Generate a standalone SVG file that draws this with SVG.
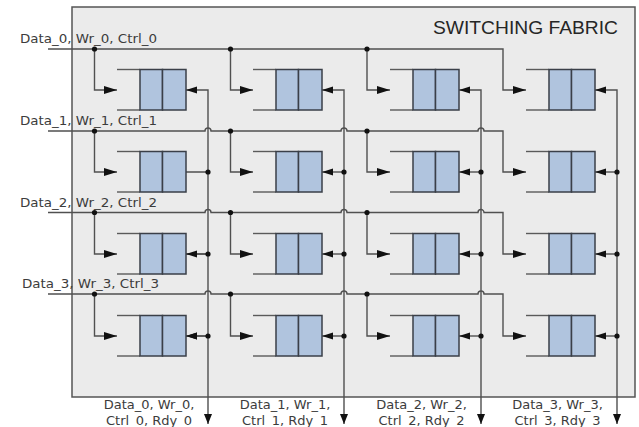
<svg xmlns="http://www.w3.org/2000/svg" width="639" height="427" viewBox="0 0 639 427">
<style>
.ln{fill:none;stroke:#505050;stroke-width:1.4}
.dot{fill:#111}
.cell{fill:#b0c4de;stroke:#3a3f48;stroke-width:1.5}
.open{stroke:#5a5a5a;stroke-width:1.4}
.lbl{font-family:"DejaVu Sans","Liberation Sans",sans-serif;font-size:13px;fill:#3c3c3c}
.ttl{font-family:"Liberation Sans",Arial,sans-serif;font-size:19px;fill:#262626}
</style>
<defs>
<marker id="ah1" markerUnits="userSpaceOnUse" markerWidth="13" markerHeight="9" viewBox="0 0 13 9" refX="13" refY="4.5" orient="auto"><path d="M0,0.5 L13,4.5 L0,8.5 z" fill="#111"/></marker>
<marker id="ah2" markerUnits="userSpaceOnUse" markerWidth="11" markerHeight="8" viewBox="0 0 11 8" refX="11" refY="4" orient="auto-start-reverse"><path d="M0,0.5 L11,4 L0,7.5 z" fill="#111"/></marker>
<marker id="ah3" markerUnits="userSpaceOnUse" markerWidth="10" markerHeight="9" viewBox="0 0 10 9" refX="10" refY="4.5" orient="auto"><path d="M0,0.5 L10,4.5 L0,8.5 z" fill="#111"/></marker>
</defs>
<g id="fabric">
<rect x="72" y="7" width="563" height="390" fill="#ebebeb" stroke="#555" stroke-width="1.5"/>
<text class="ttl" x="433" y="34" textLength="185" lengthAdjust="spacingAndGlyphs">SWITCHING FABRIC</text>
</g>
<g id="connectors">
<!-- input row buses -->
<path class="ln" marker-end="url(#ah1)" d="M48,49 H503 V90 H526"/>
<path class="ln" marker-end="url(#ah1)" d="M48,131 H205 a3,3 0 0 1 6,0 H341 a3,3 0 0 1 6,0 H478 a3,3 0 0 1 6,0 H503 V172 H526"/>
<path class="ln" marker-end="url(#ah1)" d="M48,212.5 H205 a3,3 0 0 1 6,0 H341 a3,3 0 0 1 6,0 H478 a3,3 0 0 1 6,0 H503 V254 H526"/>
<path class="ln" marker-end="url(#ah1)" d="M48,294 H205 a3,3 0 0 1 6,0 H341 a3,3 0 0 1 6,0 H478 a3,3 0 0 1 6,0 H503 V336 H526"/>
<!-- drops -->
<path class="ln" marker-end="url(#ah1)" d="M94.5,49 V90 H117"/>
<path class="ln" marker-end="url(#ah1)" d="M230.5,49 V90 H253"/>
<path class="ln" marker-end="url(#ah1)" d="M367,49 V90 H390"/>
<path class="ln" marker-end="url(#ah1)" d="M94.5,131 V172 H117"/>
<path class="ln" marker-end="url(#ah1)" d="M230.5,131 V172 H253"/>
<path class="ln" marker-end="url(#ah1)" d="M367,131 V172 H390"/>
<path class="ln" marker-end="url(#ah1)" d="M94.5,212.5 V254 H117"/>
<path class="ln" marker-end="url(#ah1)" d="M230.5,212.5 V254 H253"/>
<path class="ln" marker-end="url(#ah1)" d="M367,212.5 V254 H390"/>
<path class="ln" marker-end="url(#ah1)" d="M94.5,294 V336 H117"/>
<path class="ln" marker-end="url(#ah1)" d="M230.5,294 V336 H253"/>
<path class="ln" marker-end="url(#ah1)" d="M367,294 V336 H390"/>
<!-- output columns -->
<path class="ln" marker-start="url(#ah2)" marker-end="url(#ah3)" d="M186,90 H208 V424"/>
<path class="ln" marker-start="url(#ah2)" marker-end="url(#ah3)" d="M322,90 H344 V424"/>
<path class="ln" marker-start="url(#ah2)" marker-end="url(#ah3)" d="M459,90 H481 V424"/>
<path class="ln" marker-start="url(#ah2)" marker-end="url(#ah3)" d="M595,90 H617 V424"/>
<path class="ln" marker-end="url(#ah2)" d="M208,172 H186 M208,254 H186 M208,336 H186"/>
<path class="ln" marker-end="url(#ah2)" d="M344,172 H322"/>
<path class="ln" marker-end="url(#ah2)" d="M344,254 H322"/>
<path class="ln" marker-end="url(#ah2)" d="M344,336 H322"/>
<path class="ln" marker-end="url(#ah2)" d="M481,172 H459"/>
<path class="ln" marker-end="url(#ah2)" d="M481,254 H459"/>
<path class="ln" marker-end="url(#ah2)" d="M481,336 H459"/>
<path class="ln" marker-end="url(#ah2)" d="M617,172 H595"/>
<path class="ln" marker-end="url(#ah2)" d="M617,254 H595"/>
<path class="ln" marker-end="url(#ah2)" d="M617,336 H595"/>
<path class="ln" marker-end="url(#ah2)" d="M208,254 H186"/>
<path class="ln" marker-end="url(#ah2)" d="M208,336 H186"/>
<!-- junction dots -->
<g class="dot">
<circle cx="94.5" cy="49" r="2.6"/><circle cx="230.5" cy="49" r="2.6"/><circle cx="367" cy="49" r="2.6"/>
<circle cx="94.5" cy="131" r="2.6"/><circle cx="230.5" cy="131" r="2.6"/><circle cx="367" cy="131" r="2.6"/>
<circle cx="94.5" cy="212.5" r="2.6"/><circle cx="230.5" cy="212.5" r="2.6"/><circle cx="367" cy="212.5" r="2.6"/>
<circle cx="94.5" cy="294" r="2.6"/><circle cx="230.5" cy="294" r="2.6"/><circle cx="367" cy="294" r="2.6"/>
<circle cx="208" cy="172" r="2.6"/><circle cx="344" cy="172" r="2.6"/><circle cx="481" cy="172" r="2.6"/><circle cx="617" cy="172" r="2.6"/>
<circle cx="208" cy="254" r="2.6"/><circle cx="344" cy="254" r="2.6"/><circle cx="481" cy="254" r="2.6"/><circle cx="617" cy="254" r="2.6"/>
<circle cx="208" cy="336" r="2.6"/><circle cx="344" cy="336" r="2.6"/><circle cx="481" cy="336" r="2.6"/><circle cx="617" cy="336" r="2.6"/>
</g>
<!-- labels -->
<text class="lbl" x="20" y="43" textLength="137" lengthAdjust="spacingAndGlyphs">Data_0, Wr_0, Ctrl_0</text>
<text class="lbl" x="20" y="125" textLength="137" lengthAdjust="spacingAndGlyphs">Data_1, Wr_1, Ctrl_1</text>
<text class="lbl" x="20" y="206.5" textLength="137" lengthAdjust="spacingAndGlyphs">Data_2, Wr_2, Ctrl_2</text>
<text class="lbl" x="22" y="288" textLength="137" lengthAdjust="spacingAndGlyphs">Data_3, Wr_3, Ctrl_3</text>
<g class="lbl" text-anchor="middle">
<text x="149" y="409">Data_0, Wr_0,</text><text x="149" y="425">Ctrl_0, Rdy_0</text>
<text x="285" y="409">Data_1, Wr_1,</text><text x="285" y="425">Ctrl_1, Rdy_1</text>
<text x="421.5" y="409">Data_2, Wr_2,</text><text x="421.5" y="425">Ctrl_2, Rdy_2</text>
<text x="557.5" y="409">Data_3, Wr_3,</text><text x="557.5" y="425">Ctrl_3, Rdy_3</text>
</g>
</g>
<defs>
<g id="q">
<line class="open" x1="0" y1="0" x2="23" y2="0"/>
<line class="open" x1="0" y1="40.5" x2="23" y2="40.5"/>
<rect class="cell" x="23" y="0" width="22.5" height="40.5"/>
<rect class="cell" x="45.5" y="0" width="23.5" height="40.5"/>
</g>
</defs>
<g id="q00"><use href="#q" x="117" y="69.5"/></g>
<g id="q01"><use href="#q" x="253" y="69.5"/></g>
<g id="q02"><use href="#q" x="390" y="69.5"/></g>
<g id="q03"><use href="#q" x="526" y="69.5"/></g>
<g id="q10"><use href="#q" x="117" y="151.5"/></g>
<g id="q11"><use href="#q" x="253" y="151.5"/></g>
<g id="q12"><use href="#q" x="390" y="151.5"/></g>
<g id="q13"><use href="#q" x="526" y="151.5"/></g>
<g id="q20"><use href="#q" x="117" y="233.5"/></g>
<g id="q21"><use href="#q" x="253" y="233.5"/></g>
<g id="q22"><use href="#q" x="390" y="233.5"/></g>
<g id="q23"><use href="#q" x="526" y="233.5"/></g>
<g id="q30"><use href="#q" x="117" y="315.5"/></g>
<g id="q31"><use href="#q" x="253" y="315.5"/></g>
<g id="q32"><use href="#q" x="390" y="315.5"/></g>
<g id="q33"><use href="#q" x="526" y="315.5"/></g>
</svg>
